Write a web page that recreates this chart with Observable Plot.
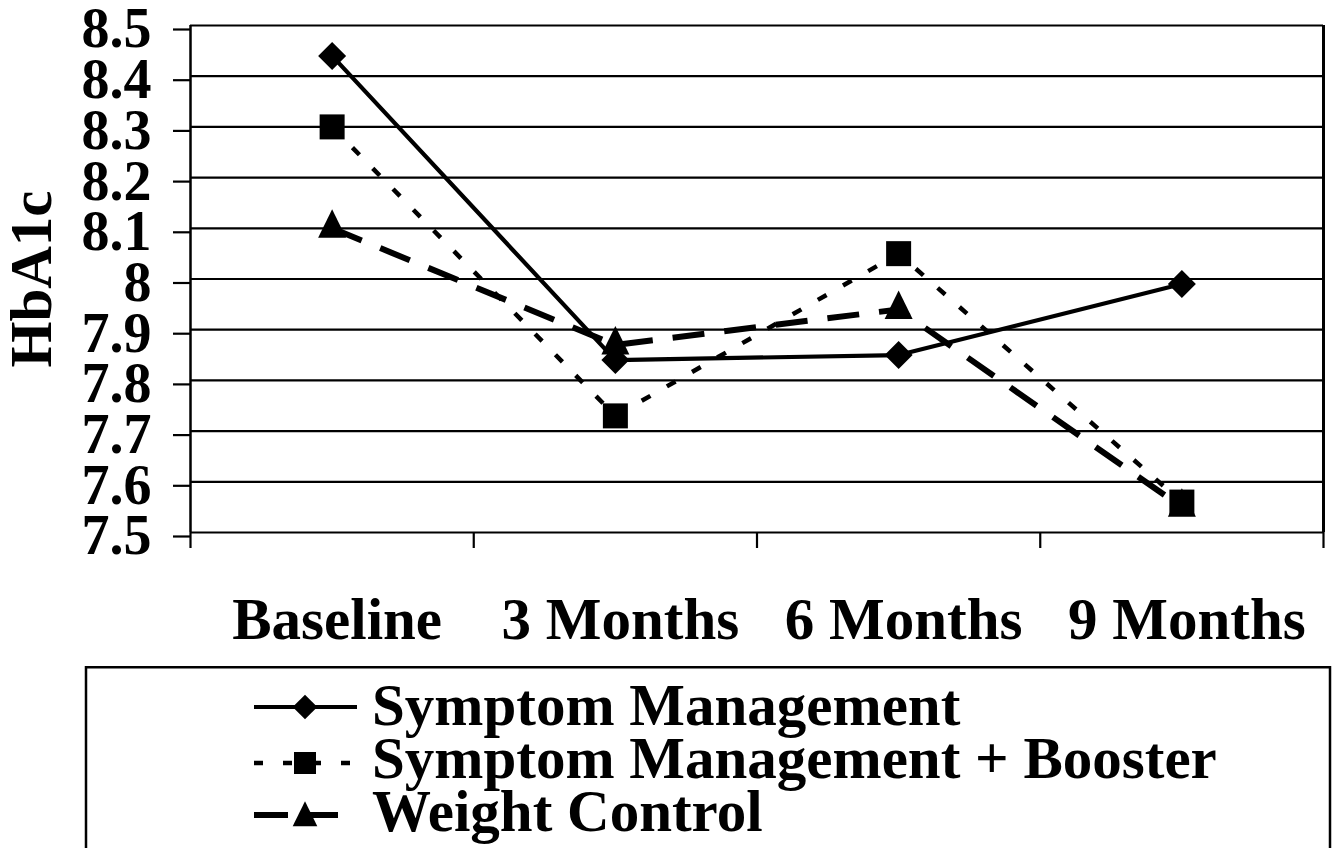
<!DOCTYPE html>
<html>
<head>
<meta charset="utf-8">
<script src="https://cdn.jsdelivr.net/npm/d3@7"></script>
<script src="https://cdn.jsdelivr.net/npm/@observablehq/plot@0.6"></script>
<style>
  html, body { margin: 0; padding: 0; background: white; }
  #wrap { position: relative; width: 1337px; height: 848px; overflow: hidden; background: white; }
  #chart { position: absolute; left: 0; top: 0; }
  #legend { position: absolute; left: 0; top: 666px; }
  text { font-family: "Liberation Serif", "Times New Roman", serif; }
</style>
</head>
<body>
<div id="wrap"><div id="chart"></div><div id="legend"></div></div>
<script>
// ---- data ----
const categories = ["Baseline", "3 Months", "6 Months", "9 Months"];
const seriesNames = ["Symptom Management", "Symptom Management + Booster", "Weight Control"];
const symptomManagement = [8.44, 7.84, 7.85, 7.99];
const symptomBooster = [8.30, 7.73, 8.05, 7.56];
const weightControl = [8.10, 7.87, 7.94, 7.55];
const yTicks = [7.5, 7.6, 7.7, 7.8, 7.9, 8.0, 8.1, 8.2, 8.3, 8.4, 8.5];
const yTickLabels = ["7.5", "7.6", "7.7", "7.8", "7.9", "8", "8.1", "8.2", "8.3", "8.4", "8.5"];

// ---- custom marker shapes ----
const diamondSym = {draw(ctx) { const r = 14; ctx.moveTo(0, -r); ctx.lineTo(r, 0); ctx.lineTo(0, r); ctx.lineTo(-r, 0); ctx.closePath(); }};
const squareSym = {draw(ctx) { const h = 12.5; ctx.moveTo(-h, -h); ctx.lineTo(h, -h); ctx.lineTo(h, h); ctx.lineTo(-h, h); ctx.closePath(); }};
const triangleSym = {draw(ctx) { ctx.moveTo(0, -19); ctx.lineTo(14, 9.5); ctx.lineTo(-14, 9.5); ctx.closePath(); }};

const toRows = (vals) => vals.map((v, i) => ({cat: categories[i], i, v}));
const series = [
  {name: seriesNames[0], rows: toRows(symptomManagement), dash: null, width: 4.2, symbol: diamondSym},
  {name: seriesNames[1], rows: toRows(symptomBooster), dash: "10,19", width: 4.5, symbol: squareSym},
  {name: seriesNames[2], rows: toRows(weightControl), dash: "32,20", width: 6, symbol: triangleSym}
];

const marks = [
  Plot.ruleY(yTicks, {stroke: "black", strokeWidth: 2.2}),
  Plot.axisY(yTicks, {
    tickSize: 17, tickPadding: 22, strokeWidth: 2.2, stroke: "black",
    tickFormat: (d) => yTickLabels[yTicks.indexOf(d)],
    fontSize: 56, dy: 4, label: null
  }),
  Plot.axisX([0, 1, 2, 3, 4], {tickSize: 16, strokeWidth: 2.2, stroke: "black", tickFormat: () => "", label: null}),
  Plot.ruleX([0], {y1: 7.5, y2: 8.5, stroke: "black", strokeWidth: 2.5}),
  Plot.ruleX([4], {y1: 7.5, y2: 8.5, stroke: "black", strokeWidth: 3}),
  Plot.text(categories, {
    x: (d, i) => i + 0.5, frameAnchor: "bottom", dy: 106, dx: 5,
    text: (d) => d, fontSize: 59, fill: "black"
  }),
  Plot.text(["HbA1c"], {
    frameAnchor: "left", textAnchor: "middle", rotate: -90, dx: -158,
    text: (d) => d, fontSize: 59, fill: "black"
  })
];
for (const s of series) {
  marks.push(Plot.line(s.rows, {
    x: (d) => d.i + 0.5, y: "v", stroke: "black", strokeWidth: s.width,
    strokeDasharray: s.dash, strokeLinecap: "butt", strokeLinejoin: "miter"
  }));
}
for (const s of series) {
  marks.push(Plot.dot(s.rows, {
    x: (d) => d.i + 0.5, y: "v", symbol: s.symbol, fill: "black", stroke: "none", r: 8
  }));
}

const chart = Plot.plot({
  width: 1337,
  height: 666,
  marginLeft: 190,
  marginRight: 14,
  marginTop: 25,
  marginBottom: 134,
  x: {domain: [0, 4], axis: null},
  y: {domain: [7.5, 8.5], axis: null},
  style: {
    fontFamily: '"Liberation Serif", "Times New Roman", serif',
    fontWeight: "bold",
    fontSize: "56px",
    color: "black",
    background: "white",
    overflow: "visible"
  },
  marks
});
document.getElementById("chart").appendChild(chart);

// ---- legend ----
const leg = d3.create("svg").attr("width", 1337).attr("height", 182)
  .style("font-family", '"Liberation Serif", "Times New Roman", serif')
  .style("font-weight", "bold");
leg.append("rect").attr("x", 86).attr("y", 1.25).attr("width", 1244).attr("height", 400)
  .attr("fill", "white").attr("stroke", "black").attr("stroke-width", 2.5);
const rowsY = [41, 97, 149];
const textY = [59, 112, 165];
series.forEach((s, k) => {
  const y = rowsY[k];
  const g = leg.append("g");
  g.append("line").attr("x1", 254).attr("x2", k === 2 ? 338 : 357).attr("y1", y).attr("y2", y)
    .attr("stroke", "black").attr("stroke-width", s.width)
    .attr("stroke-dasharray", k === 1 ? "9,20" : (k === 2 ? "34,16" : null));
  const p = d3.path();
  s.symbol.draw(p);
  g.append("path").attr("d", p.toString())
    .attr("transform", `translate(305,${k === 2 ? y + 3 : y}) scale(0.88)`)
    .attr("fill", "black");
  leg.append("text").attr("x", 372).attr("y", textY[k]).attr("font-size", 59).attr("fill", "black").text(s.name);
});
document.getElementById("legend").appendChild(leg.node());
</script>
</body>
</html>
